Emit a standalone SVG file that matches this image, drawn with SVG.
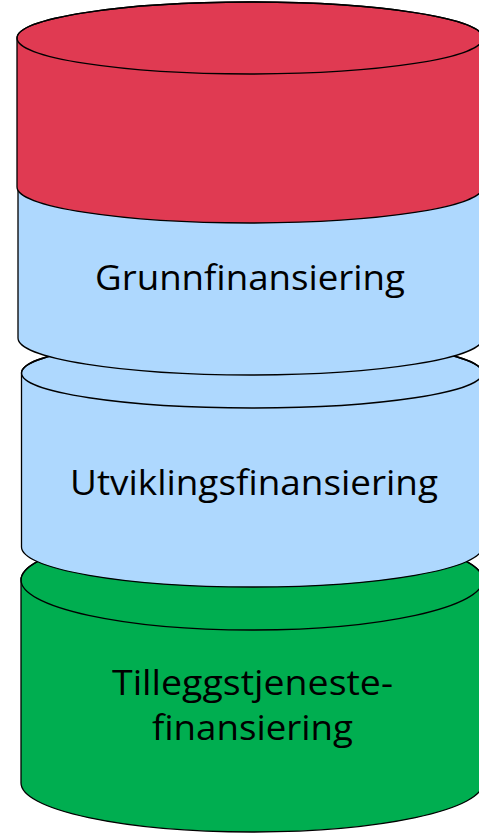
<svg xmlns="http://www.w3.org/2000/svg" width="479" height="836" viewBox="0 0 479 836">
  <style>
    .shape { stroke: #000; stroke-width: 1.3; stroke-linejoin: round; }
    .rim { fill: none; stroke: #000; stroke-width: 1.3; }
    .red { fill: #E03A52; }
    .blue { fill: #AED8FE; }
    .green { fill: #00AE50; }
    .label { font-family: "Open Sans", "Liberation Sans", sans-serif; font-size: 35px; fill: #000; text-anchor: middle; }
  </style>
  <rect width="479" height="836" fill="#fff"/>
  <g id="tilleggstjeneste">
    <path class="shape green" d="M21,580 L21,783 A231,49 0 0 0 483,783 L483,580 A231,50 0 0 0 21,580 Z"/>
    <ellipse class="rim" cx="252" cy="580" rx="231" ry="50"/>
    <text class="label" x="252.5" y="695" textLength="281" lengthAdjust="spacingAndGlyphs">Tilleggstjeneste-</text>
    <text class="label" x="252.5" y="740" textLength="201" lengthAdjust="spacingAndGlyphs">finansiering</text>
  </g>
  <g id="utvikling">
    <path class="shape blue" d="M21.5,373 L21.5,547 A230.5,40 0 0 0 482.5,547 L482.5,373 A230.5,35 0 0 0 21.5,373 Z"/>
    <ellipse class="rim" cx="252" cy="373" rx="230.5" ry="35"/>
    <text class="label" x="254" y="495" textLength="368" lengthAdjust="spacingAndGlyphs">Utviklingsfinansiering</text>
  </g>
  <g id="grunn">
    <path class="shape blue" d="M18,187 L18,338 A232.5,37 0 0 0 483,338 L483,187 A232.5,36 0 0 0 18,187 Z"/>
    <text class="label" x="250" y="290" textLength="310" lengthAdjust="spacingAndGlyphs">Grunnfinansiering</text>
  </g>
  <g id="topp">
    <path class="shape red" d="M17,38 L17,187 A233,36 0 0 0 483,187 L483,38 A233,36 0 0 0 17,38 Z"/>
    <ellipse class="rim" cx="250" cy="38" rx="233" ry="36"/>
  </g>
  <g id="connectors"/>
</svg>
